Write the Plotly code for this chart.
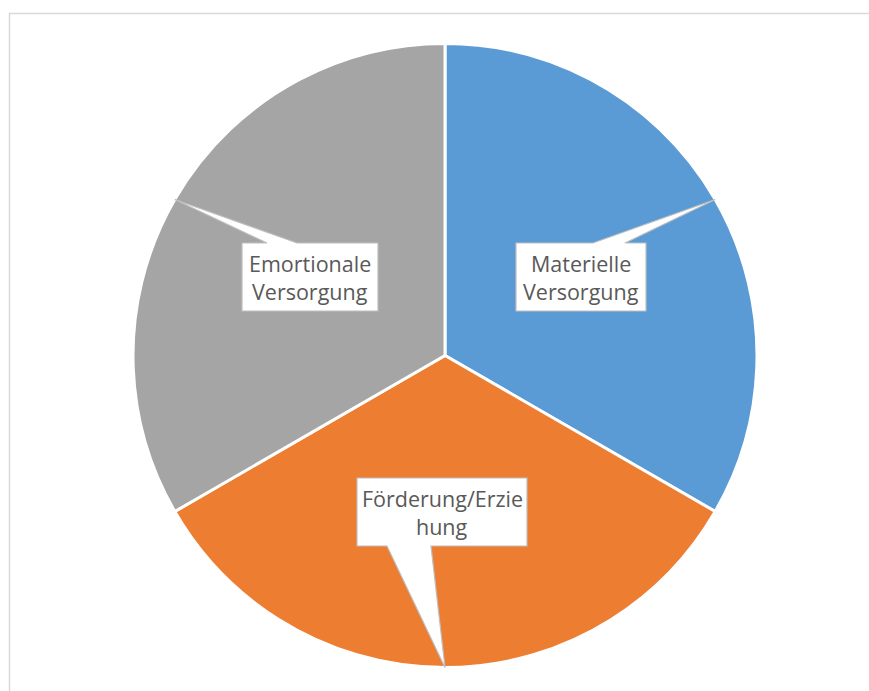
import math
import plotly.graph_objects as go

# Data
labels = ["Materielle Versorgung", "Förderung/Erziehung", "Emortionale Versorgung"]
values = [1, 1, 1]
colors = ["#5B9BD5", "#ED7D31", "#A5A5A5"]
label_lines = [["Materielle", "Versorgung"], ["Förderung/Erzie", "hung"], ["Emortionale", "Versorgung"]]

W, H = 869, 691
CX, CY, R = 445, 355.5, 312

# callout boxes (layout): x0, y0, x1, y1, pointer base edge ('top'/'bottom'), base xa, xb
boxes = [
    (516, 243, 646, 311, "top", 593, 625),
    (357, 478, 527, 546, "bottom", 387, 431),
    (242, 243, 378, 311, "top", 267, 297),
]

fig = go.Figure()
fig.add_trace(go.Pie(
    labels=labels, values=values, sort=False, direction="clockwise", rotation=0,
    marker=dict(colors=colors, line=dict(color="white", width=3)),
    textinfo="none", hoverinfo="label+percent", showlegend=False,
    domain=dict(x=[(CX - R) / W, (CX + R) / W], y=[1 - (CY + R) / H, 1 - (CY - R) / H]),
))
# invisible pixel axes for shapes
fig.add_trace(go.Scatter(x=[0], y=[0], mode="markers", marker=dict(opacity=0), hoverinfo="skip", showlegend=False))

shapes = [dict(type="rect", xref="x", yref="y", x0=9.5, y0=13.5, x1=900, y1=720,
               line=dict(color="#D9D9D9", width=1.5), fillcolor="rgba(0,0,0,0)", layer="below")]
annotations = []
total = sum(values)
cum = 0
for i, v in enumerate(values):
    mid = (cum + v / 2) / total * 2 * math.pi
    cum += v
    tx = CX + R * math.sin(mid)
    ty = CY - R * math.cos(mid)
    x0, y0, x1, y1, edge, xa, xb = boxes[i]
    if edge == "top":
        path = f"M{x0},{y0} L{xa},{y0} L{tx:.1f},{ty:.1f} L{xb},{y0} L{x1},{y0} L{x1},{y1} L{x0},{y1} Z"
    else:
        path = f"M{x0},{y0} L{x1},{y0} L{x1},{y1} L{xb},{y1} L{tx:.1f},{ty:.1f} L{xa},{y1} L{x0},{y1} Z"
    shapes.append(dict(type="path", xref="x", yref="y", path=path, fillcolor="white",
                       line=dict(color="#BFBFBF", width=1.2), layer="above"))
    ymid = (y0 + y1) / 2
    for j, line in enumerate(label_lines[i]):
        annotations.append(dict(x=(x0 + x1) / 2, y=ymid + (j - 0.5) * 28, xref="x", yref="y", text=line,
                                showarrow=False, font=dict(family="Open Sans, sans-serif", size=21.5, color="#595959"),
                                align="center"))

fig.update_layout(
    width=W, height=H, margin=dict(l=0, r=0, t=0, b=0),
    paper_bgcolor="white", plot_bgcolor="rgba(0,0,0,0)",
    xaxis=dict(range=[0, W], visible=False, fixedrange=True),
    yaxis=dict(range=[H, 0], visible=False, fixedrange=True),
    shapes=shapes, annotations=annotations,
)
fig.write_html("out.html")
